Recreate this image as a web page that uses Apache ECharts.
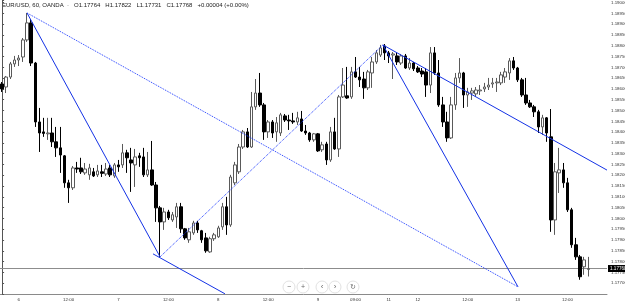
<!DOCTYPE html>
<html>
<head>
<meta charset="utf-8">
<script src="https://cdn.jsdelivr.net/npm/echarts@6.0.0/dist/echarts.min.js"></script>
<style>
html, body { margin: 0; padding: 0; background: #fff; }
#main { width: 625px; height: 304px; }
</style>
</head>
<body>
<div id="main"></div>
<script>
// K线数据 (EUR/USD 60分钟)
var opens = [
  1.18623, 1.18609, 1.18655, 1.18716, 1.18734, 1.18748, 1.18827, 1.18906, 1.18720, 1.18447,
  1.18401, 1.18392, 1.18396, 1.18355, 1.18327, 1.18290, 1.18165, 1.18142, 1.18234, 1.18234,
  1.18211, 1.18202, 1.18216, 1.18202, 1.18216, 1.18206, 1.18234, 1.18197, 1.18248, 1.18248,
  1.18304, 1.18271, 1.18248, 1.18290, 1.18285, 1.18202, 1.18225, 1.18155, 1.18049, 1.17984,
  1.18030, 1.17993, 1.18007, 1.18054, 1.17952, 1.17901, 1.17933, 1.17979, 1.17943, 1.17910,
  1.17845, 1.17906, 1.17915, 1.17961, 1.18054, 1.17970, 1.18165, 1.18216, 1.18331, 1.18401,
  1.18331, 1.18517, 1.18581, 1.18526, 1.18401, 1.18447, 1.18401, 1.18396, 1.18475, 1.18456,
  1.18452, 1.18447, 1.18461, 1.18405, 1.18396, 1.18364, 1.18392, 1.18318, 1.18345, 1.18271,
  1.18401, 1.18322, 1.18563, 1.18568, 1.18563, 1.18679, 1.18655, 1.18646, 1.18605, 1.18674,
  1.18725, 1.18757, 1.18799, 1.18767, 1.18757, 1.18753, 1.18720, 1.18753, 1.18697, 1.18720,
  1.18697, 1.18683, 1.18679, 1.18618, 1.18767, 1.18674, 1.18526, 1.18447, 1.18373, 1.18526,
  1.18651, 1.18674, 1.18572, 1.18581, 1.18577, 1.18591, 1.18600, 1.18609, 1.18623, 1.18628,
  1.18628, 1.18655, 1.18674, 1.18730, 1.18697, 1.18642, 1.18572, 1.18535, 1.18517, 1.18494,
  1.18424, 1.18466, 1.18378, 1.17993, 1.18211, 1.18225, 1.18165, 1.18040, 1.17878, 1.17822,
  1.17776, 1.17764
];
var closes = [
  1.18600, 1.18655, 1.18716, 1.18734, 1.18743, 1.18827, 1.18906, 1.18720, 1.18447, 1.18396,
  1.18394, 1.18396, 1.18355, 1.18327, 1.18294, 1.18165, 1.18142, 1.18234, 1.18229, 1.18216,
  1.18229, 1.18234, 1.18197, 1.18220, 1.18209, 1.18229, 1.18202, 1.18248, 1.18239, 1.18304,
  1.18281, 1.18257, 1.18285, 1.18281, 1.18202, 1.18225, 1.18155, 1.18049, 1.17984, 1.18030,
  1.18003, 1.18017, 1.18054, 1.17952, 1.17910, 1.17938, 1.17979, 1.17947, 1.17901, 1.17850,
  1.17906, 1.17924, 1.17956, 1.18054, 1.17970, 1.18192, 1.18248, 1.18331, 1.18401, 1.18331,
  1.18517, 1.18581, 1.18526, 1.18401, 1.18447, 1.18396, 1.18443, 1.18480, 1.18456, 1.18452,
  1.18447, 1.18466, 1.18405, 1.18396, 1.18364, 1.18392, 1.18313, 1.18341, 1.18271, 1.18401,
  1.18322, 1.18563, 1.18618, 1.18558, 1.18679, 1.18655, 1.18642, 1.18605, 1.18679, 1.18725,
  1.18767, 1.18790, 1.18767, 1.18753, 1.18762, 1.18725, 1.18753, 1.18697, 1.18720, 1.18693,
  1.18679, 1.18669, 1.18618, 1.18767, 1.18674, 1.18526, 1.18447, 1.18373, 1.18526, 1.18651,
  1.18674, 1.18572, 1.18586, 1.18591, 1.18595, 1.18595, 1.18609, 1.18618, 1.18628, 1.18632,
  1.18665, 1.18679, 1.18730, 1.18697, 1.18642, 1.18572, 1.18535, 1.18517, 1.18494, 1.18424,
  1.18466, 1.18396, 1.17993, 1.18216, 1.18225, 1.18165, 1.18040, 1.17878, 1.17822, 1.17730,
  1.17808, 1.17768
];
var lows = [
  1.18586, 1.18581, 1.18646, 1.18702, 1.18706, 1.18725, 1.18818, 1.18706, 1.18424, 1.18308,
  1.18378, 1.18364, 1.18331, 1.18285, 1.18211, 1.18142, 1.18072, 1.18132, 1.18211, 1.18206,
  1.18202, 1.18179, 1.18192, 1.18192, 1.18192, 1.18197, 1.18192, 1.18188, 1.18216, 1.18234,
  1.18211, 1.18123, 1.18146, 1.18239, 1.18192, 1.18192, 1.18151, 1.17984, 1.17822, 1.17947,
  1.17993, 1.17984, 1.17956, 1.17933, 1.17901, 1.17887, 1.17924, 1.17933, 1.17887, 1.17841,
  1.17841, 1.17896, 1.17910, 1.17947, 1.17924, 1.17961, 1.18155, 1.18206, 1.18322, 1.18327,
  1.18327, 1.18503, 1.18517, 1.18364, 1.18373, 1.18373, 1.18355, 1.18382, 1.18447, 1.18410,
  1.18438, 1.18433, 1.18401, 1.18387, 1.18355, 1.18355, 1.18308, 1.18308, 1.18248, 1.18262,
  1.18318, 1.18285, 1.18558, 1.18554, 1.18554, 1.18651, 1.18609, 1.18554, 1.18595, 1.18605,
  1.18716, 1.18748, 1.18734, 1.18720, 1.18646, 1.18711, 1.18711, 1.18693, 1.18688, 1.18683,
  1.18674, 1.18655, 1.18563, 1.18581, 1.18665, 1.18517, 1.18424, 1.18355, 1.18368, 1.18503,
  1.18628, 1.18512, 1.18517, 1.18549, 1.18563, 1.18572, 1.18586, 1.18595, 1.18605, 1.18586,
  1.18618, 1.18628, 1.18642, 1.18688, 1.18632, 1.18563, 1.18526, 1.18512, 1.18470, 1.18396,
  1.18387, 1.18355, 1.17938, 1.17924, 1.18118, 1.18142, 1.18030, 1.17864, 1.17808, 1.17716,
  1.17739, 1.17731
];
var highs = [
  1.18632, 1.18660, 1.18725, 1.18753, 1.18757, 1.18836, 1.18952, 1.18924, 1.18725, 1.18512,
  1.18466, 1.18466, 1.18466, 1.18424, 1.18424, 1.18294, 1.18179, 1.18243, 1.18262, 1.18281,
  1.18257, 1.18253, 1.18234, 1.18248, 1.18248, 1.18257, 1.18248, 1.18257, 1.18271, 1.18345,
  1.18318, 1.18327, 1.18322, 1.18304, 1.18327, 1.18308, 1.18359, 1.18169, 1.18058, 1.18049,
  1.18040, 1.18030, 1.18072, 1.18072, 1.17956, 1.17956, 1.17989, 1.17989, 1.17947, 1.17933,
  1.17915, 1.17933, 1.17966, 1.18072, 1.18100, 1.18202, 1.18262, 1.18345, 1.18410, 1.18419,
  1.18586, 1.18646, 1.18674, 1.18535, 1.18456, 1.18456, 1.18470, 1.18489, 1.18484, 1.18480,
  1.18489, 1.18494, 1.18498, 1.18433, 1.18401, 1.18396, 1.18396, 1.18355, 1.18355, 1.18424,
  1.18466, 1.18572, 1.18697, 1.18702, 1.18702, 1.18748, 1.18702, 1.18679, 1.18688, 1.18748,
  1.18780, 1.18804, 1.18808, 1.18776, 1.18771, 1.18767, 1.18762, 1.18762, 1.18743, 1.18725,
  1.18706, 1.18697, 1.18697, 1.18794, 1.18794, 1.18734, 1.18563, 1.18494, 1.18563, 1.18674,
  1.18743, 1.18679, 1.18605, 1.18605, 1.18609, 1.18618, 1.18628, 1.18651, 1.18651, 1.18651,
  1.18679, 1.18697, 1.18743, 1.18748, 1.18702, 1.18651, 1.18651, 1.18549, 1.18526, 1.18503,
  1.18480, 1.18470, 1.18507, 1.18257, 1.18327, 1.18257, 1.18188, 1.18049, 1.17910, 1.17831,
  1.17822, 1.17822
];

// x轴刻度 (K线序号 -> 文字)
var tickIndex = [4, 16, 28, 40, 52, 64, 76, 85, 93, 100, 112, 124, 136];
var tickLabels = ['6', '12:00', '7', '12:00', '8', '12:00', '9', '09:00', '11', '12', '12:00', '13', '12:00'];
var barCount = 146;
var lastPrice = 1.17768;

// 画线 [K线序号, 价格]
var lineAB = [[6, 1.18952], [38, 1.17822]];
var lineB2 = [[36.3, 1.17836], [53.6, 1.17651]];
var lineAC = [[6, 1.18952], [124.1, 1.17683]];
var lineBD = [[38, 1.17822], [91.6, 1.18804]];
var lineDC = [[91.6, 1.18804], [124.1, 1.17683]];
var lineDE = [[91.6, 1.18804], [145.5, 1.18224]];

var categories = [];
for (var i = 0; i < barCount; i++) categories.push(String(i));

var kData = opens.map(function (o, i) {
  return [o, closes[i], lows[i], highs[i]];
});

function trend(data, dotted) {
  return {
    type: 'line',
    xAxisIndex: 1,
    data: data,
    symbol: 'none',
    silent: true,
    lineStyle: { color: dotted ? '#1d3bff' : '#1432e6', width: 1, type: dotted ? 'dotted' : 'solid' }
  };
}

var labelFont = { fontFamily: 'Liberation Sans, Arial, sans-serif', fontSize: 4.4, color: '#333' };

var myChart = echarts.init(document.getElementById('main'));
var option = {
  animation: false,
  backgroundColor: '#fff',
  grid: { left: 0, right: 18, top: 0, bottom: 10, outerBoundsMode: 'none', containLabel: false },
  xAxis: [
    {
      type: 'category',
      data: categories,
      boundaryGap: true,
      axisLine: { lineStyle: { color: '#8a8a8a', width: 1 } },
      axisTick: {
        length: 2,
        lineStyle: { color: '#8a8a8a' },
        interval: function (idx) { return tickIndex.indexOf(idx) >= 0; }
      },
      axisLabel: Object.assign({
        margin: 4,
        interval: function (idx) { return tickIndex.indexOf(idx) >= 0; },
        formatter: function (v, idx) {
          var k = tickIndex.indexOf(idx);
          return k >= 0 ? tickLabels[k] : '';
        }
      }, labelFont),
      splitLine: { show: false }
    },
    {
      type: 'value',
      min: -0.5,
      max: barCount - 0.5,
      show: false
    }
  ],
  yAxis: {
    type: 'value',
    position: 'right',
    min: 1.1765,
    max: 1.19012,
    interval: 0.0005,
    scale: true,
    axisLine: { show: true, lineStyle: { color: '#555', width: 1 } },
    axisTick: { show: true, length: 2, lineStyle: { color: '#555' } },
    axisLabel: Object.assign({
      margin: 4,
      overflow: 'none',
      width: 40,
      showMinLabel: true,
      showMaxLabel: true,
      formatter: function (v) {
        var k = Math.round(v / 0.0005);
        if (Math.abs(v - k * 0.0005) > 1e-7 || v < 1.1769) return '';
        return v.toFixed(5);
      }
    }, labelFont),
    splitLine: { show: false }
  },
  graphic: [
    {
      type: 'text', left: 2, top: 2,
      style: {
        text: 'EUR/USD, 60, OANDA  ·   O1.17764   H1.17822   L1.17731   C1.17768   +0.00004 (+0.00%)',
        fontSize: 6, fontFamily: 'Liberation Sans, Arial', fill: '#222'
      }
    },
    // 缩放按钮
    { type: 'circle', shape: { cx: 289, cy: 287, r: 6 }, style: { fill: '#fff', stroke: '#e2e2e2' } },
    { type: 'circle', shape: { cx: 303, cy: 287, r: 6 }, style: { fill: '#fff', stroke: '#e2e2e2' } },
    { type: 'circle', shape: { cx: 322, cy: 287, r: 6 }, style: { fill: '#fff', stroke: '#e2e2e2' } },
    { type: 'circle', shape: { cx: 335, cy: 287, r: 6 }, style: { fill: '#fff', stroke: '#e2e2e2' } },
    { type: 'circle', shape: { cx: 353, cy: 287, r: 6 }, style: { fill: '#fff', stroke: '#e2e2e2' } },
    { type: 'text', x: 289, y: 287, style: { text: '−', fontSize: 7, fill: '#666', align: 'center', verticalAlign: 'middle' } },
    { type: 'text', x: 303, y: 287, style: { text: '+', fontSize: 7, fill: '#666', align: 'center', verticalAlign: 'middle' } },
    { type: 'text', x: 322, y: 287, style: { text: '‹', fontSize: 8, fill: '#666', align: 'center', verticalAlign: 'middle' } },
    { type: 'text', x: 335, y: 287, style: { text: '›', fontSize: 8, fill: '#666', align: 'center', verticalAlign: 'middle' } },
    { type: 'text', x: 353, y: 287, style: { text: '↻', fontSize: 7, fill: '#666', align: 'center', verticalAlign: 'middle' } }
  ],
  series: [
    {
      type: 'candlestick',
      data: kData,
      barWidth: 3,
      silent: true,
      itemStyle: {
        color: '#ffffff',
        color0: '#000000',
        borderColor: '#5a5a5a',
        borderColor0: '#000000',
        borderWidth: 1
      }
    },
    // 当前价格线
    {
      type: 'line',
      xAxisIndex: 1,
      data: [[-0.5, lastPrice], [barCount - 0.5, lastPrice]],
      symbol: 'none',
      silent: true,
      z: 1,
      lineStyle: { color: '#8c8c8c', width: 1 },
      endLabel: {
        show: true,
        distance: 1,
        overflow: 'none',
        formatter: lastPrice.toFixed(5),
        backgroundColor: '#000',
        color: '#fff',
        fontSize: 4.6,
        fontFamily: 'Liberation Sans, Arial, sans-serif',
        padding: [1, 2]
      }
    },
    trend(lineAB, false),
    trend(lineB2, false),
    trend(lineAC, true),
    trend(lineBD, true),
    trend(lineDC, false),
    trend(lineDE, false)
  ]
};
option && myChart.setOption(option);
</script>
</body>
</html>
